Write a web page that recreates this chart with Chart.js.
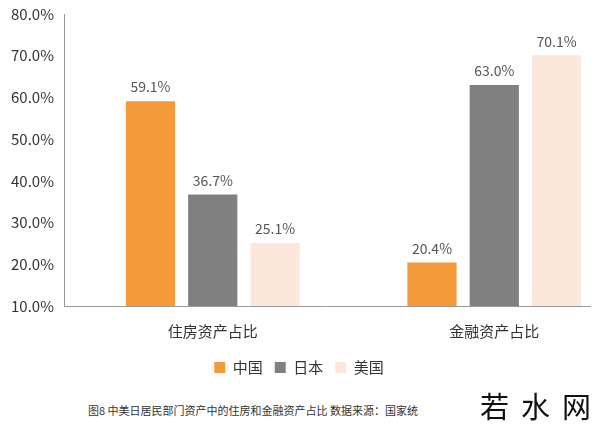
<!DOCTYPE html>
<html>
<head>
<meta charset="utf-8">
<script src="https://cdn.jsdelivr.net/npm/chart.js@4"></script>
<style>
  body { margin: 0; background: #fff; font-family: "Noto Sans CJK SC", sans-serif; }
  #wrap { position: relative; width: 600px; height: 425px; overflow: hidden; }
  #cap { position: absolute; left: 88px; top: 402px; font-size: 11px; color: #333; white-space: nowrap; }
  #mark { position: absolute; left: 480px; top: 384px; font-size: 29px; color: #111; letter-spacing: 12px; white-space: nowrap; }
</style>
</head>
<body>
<div id="wrap">
  <canvas id="chart" width="600" height="385"></canvas>
  <div id="cap">图8 中美日居民部门资产中的住房和金融资产占比 数据来源：国家统</div>
  <div id="mark">若水网</div>
</div>
<script>
const categories = ["住房资产占比", "金融资产占比"];
const categoryPos = [1, 3];
const seriesNames = ["中国", "日本", "美国"];
const chinaVals = [59.1, 20.4];
const japanVals = [36.7, 63.0];
const usVals = [25.1, 70.1];
const colours = ["#f39a3b", "#808080", "#fce8da"];

//draws the value above each bar
const valueLabels = {
  id: "valueLabels",
  afterDatasetsDraw(chart) {
    const ctx = chart.ctx;
    ctx.save();
    ctx.font = "14px 'Noto Sans CJK SC', sans-serif";
    ctx.fillStyle = "#555";
    ctx.textAlign = "center";
    ctx.textBaseline = "bottom";
    chart.data.datasets.forEach((ds, i) => {
      chart.getDatasetMeta(i).data.forEach((bar, j) => {
        ctx.fillText(ds.data[j].y.toFixed(1) + "%", bar.x, bar.y - 7);
      });
    });
    ctx.restore();
  }
};

const font = { size: 15, family: "'Noto Sans CJK SC', sans-serif" };

new Chart(document.getElementById("chart"), {
  type: "bar",
  data: {
    datasets: [chinaVals, japanVals, usVals].map((vals, i) => ({
      label: seriesNames[i],
      data: vals.map((v, j) => ({ x: categoryPos[j], y: v })),
      backgroundColor: colours[i],
      barPercentage: 0.79,
      categoryPercentage: 0.664,
      base: 10,
    }))
  },
  options: {
    responsive: false,
    animation: false,
    layout: { padding: { top: 14, right: 10, left: 8 } },
    plugins: {
      legend: {
        position: "bottom",
        labels: { boxWidth: 11, boxHeight: 11, padding: 12, color: "#333", font }
      },
      tooltip: { enabled: false }
    },
    scales: {
      x: {
        type: "linear",
        offset: false,
        min: -0.05, max: 3.68,
        grid: { display: false, offset: false },
        border: { color: "#999" },
        afterBuildTicks: axis => { axis.ticks = categoryPos.map(v => ({ value: v })); },
        ticks: {
          color: "#333", font, padding: 8,
          callback: v => categories[categoryPos.indexOf(v)] || ""
        }
      },
      y: {
        min: 10, max: 80,
        grid: { display: false },
        border: { color: "#999" },
        ticks: { stepSize: 10, color: "#333", font, callback: v => v.toFixed(1) + "%" }
      }
    }
  },
  plugins: [valueLabels]
});
</script>
</body>
</html>
